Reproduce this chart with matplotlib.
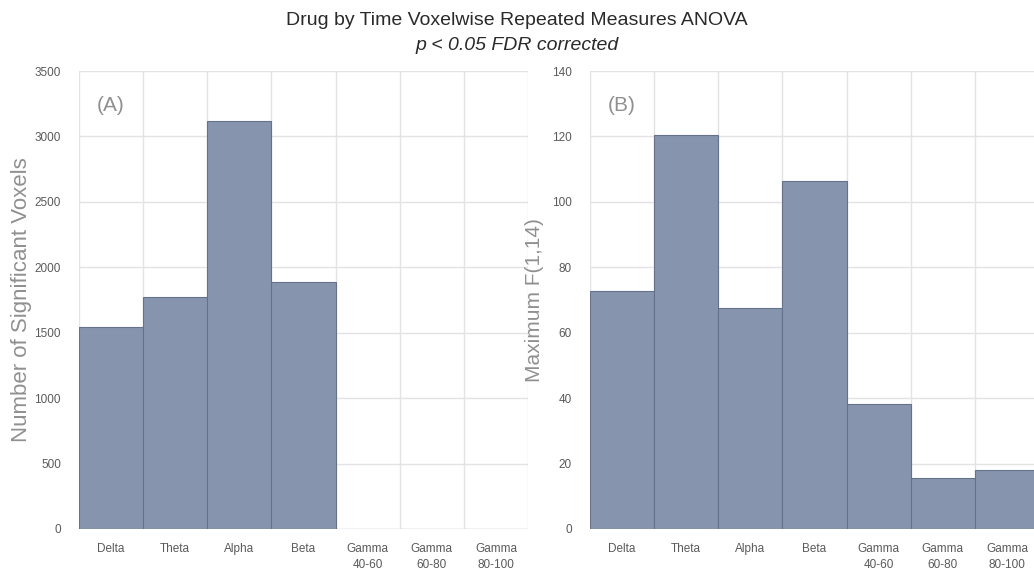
import matplotlib.pyplot as plt
import numpy as np

# Data
bands = ['Delta', 'Theta', 'Alpha', 'Beta', 'Gamma\n40-60', 'Gamma\n60-80', 'Gamma\n80-100']
n_voxels = [1543, 1773, 3118, 1888, 0, 0, 0]
max_f = [72.8, 120.3, 67.6, 106.4, 38.2, 15.6, 18.0]

bar_color = '#8794ae'
edge_color = '#66728c'
grid_color = '#e3e3e3'
tick_color = '#5a5a5a'
label_color = '#909090'

plt.rcParams['font.family'] = ['Liberation Sans', 'DejaVu Sans']

fig = plt.figure(figsize=(10.34, 5.73), dpi=100, facecolor='white')

ax1 = fig.add_axes([0.0764, 0.0768, 0.4342, 0.7992])
ax2 = fig.add_axes([0.5706, 0.0768, 0.4342, 0.7992])


def style_panel(ax, values, ymax, step, ylabel, tag, lsize, lpad):
    x = np.arange(len(bands))
    ax.bar(x, values, width=1.0, color=bar_color, edgecolor=edge_color,
           linewidth=0.8, zorder=3)
    ax.set_xlim(-0.5, len(bands) - 0.5)
    ax.set_ylim(0, ymax)
    ax.set_yticks(np.arange(0, ymax + 1, step))
    ax.set_xticks(x)
    ax.set_xticklabels(bands, fontsize=8.5, color=tick_color, linespacing=1.5)
    ax.set_xticks(np.arange(-0.5, len(bands)), minor=True)
    ax.tick_params(axis='both', which='both', length=0)
    ax.tick_params(axis='y', labelsize=8.5, labelcolor=tick_color, pad=13)
    ax.tick_params(axis='x', pad=10)
    ax.grid(True, axis='y', which='major', color=grid_color, linewidth=1, zorder=0)
    ax.grid(True, axis='x', which='minor', color=grid_color, linewidth=1, zorder=0)
    ax.grid(False, axis='x', which='major')
    for s in ax.spines.values():
        s.set_visible(False)
    ax.set_ylabel(ylabel, fontsize=lsize, color=label_color, labelpad=lpad)
    ax.text(0.04, 0.925, tag, transform=ax.transAxes, fontsize=15,
            color=label_color, ha='left', va='center')
    ax.set_axisbelow(True)


style_panel(ax1, n_voxels, 3500, 500, 'Number of Significant Voxels', '(A)', 16, 2)
style_panel(ax2, max_f, 140, 20, 'Maximum F(1,14)', '(B)', 15, 6)

fig.text(0.5, 0.965, 'Drug by Time Voxelwise Repeated Measures ANOVA',
         ha='center', va='center', fontsize=14, color='#2a2a2a')
fig.text(0.5, 0.921, 'p < 0.05 FDR corrected', ha='center', va='center',
         fontsize=14, style='italic', color='#2a2a2a')

fig.savefig('out.png', dpi=100, facecolor='white')
